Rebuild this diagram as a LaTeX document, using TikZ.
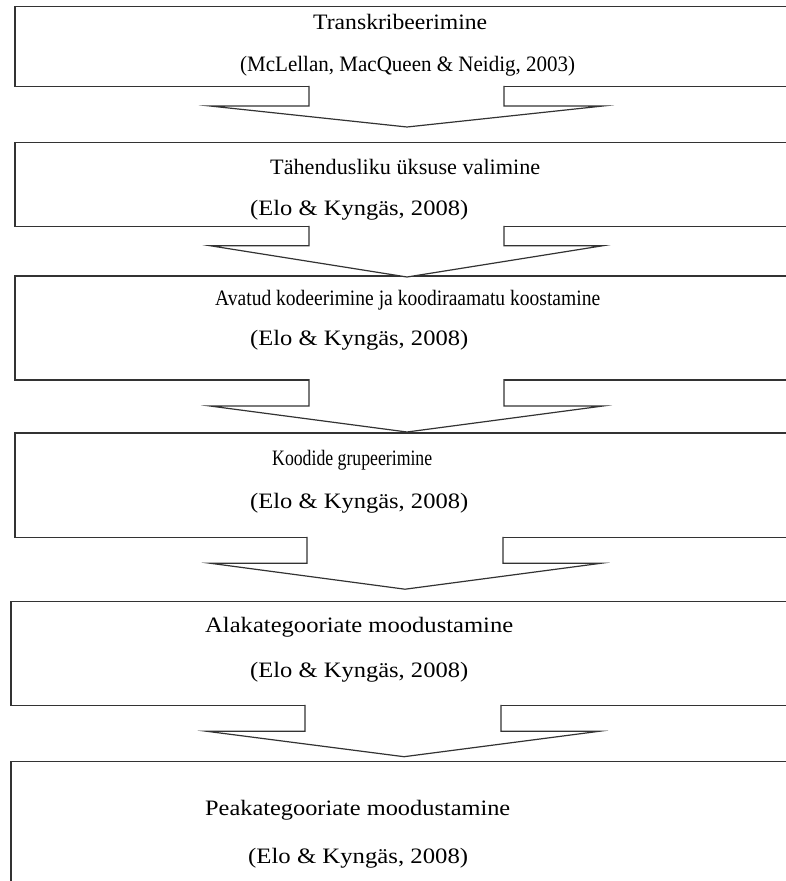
\documentclass[tikz,border=0pt]{standalone}
\usepackage{fontspec}
\usepackage{graphicx}
\setmainfont{Liberation Serif}
\usetikzlibrary{calc}
\newcommand\fitw[2]{\resizebox{#1pt}{\height}{#2}}
\begin{document}
\begin{tikzpicture}[x=1pt,y=-1pt,
  boxst/.style={draw=black!80, line width=1.2pt, anchor=north west, inner sep=0pt, outer sep=0pt, minimum width=800pt},
  arrst/.style={draw=black!80, line width=1.2pt, fill=white, line join=miter, miter limit=20},
  txt/.style={anchor=west, inner sep=0pt, font=\fontsize{22}{26}\selectfont, text=black}]
\useasboundingbox (0,0) rectangle (786,881);
\clip (0,0) rectangle (786,881);
\fill[white] (0,0) rectangle (786,881);
% boxes
\node[boxst, minimum height=80pt]  (b1) at (15,6.7) {};
\node[boxst, minimum height=84pt]  (b2) at (15,142.7) {};
\node[boxst, minimum height=104pt] (b3) at (15,276) {};
\node[boxst, minimum height=104.7pt] (b4) at (15,433) {};
\node[boxst, minimum height=104pt] (b5) at (11,601.7) {};
\node[boxst, minimum height=160pt] (b6) at (11,761.7) {};
% arrow tips
\coordinate (t1) at ($(407,0 |- b2.north)+(0,-15.7)$);
\coordinate (t2) at ($(407,0 |- b3.north)+(0,1)$);
\coordinate (t3) at ($(407,0 |- b4.north)+(0,-1)$);
\coordinate (t4) at ($(405,0 |- b5.north)+(0,-12.5)$);
\coordinate (t5) at ($(404,0 |- b6.north)+(0,-5)$);
% block arrows
\draw[arrst] ($(309,0 |- b1.south)+(0,-0.8)$) -- (309,106) -- (210,106) -- (t1) -- (603,106) -- (504,106) -- ($(504,0 |- b1.south)+(0,-0.8)$);
\draw[arrst] ($(309,0 |- b2.south)+(0,-0.8)$) -- (309,245.7) -- (210,245.7) -- (t2) -- (603,245.7) -- (504,245.7) -- ($(504,0 |- b2.south)+(0,-0.8)$);
\draw[arrst] ($(309,0 |- b3.south)+(0,-0.8)$) -- (309,406) -- (210,406) -- (t3) -- (603,406) -- (504,406) -- ($(504,0 |- b3.south)+(0,-0.8)$);
\draw[arrst] ($(307,0 |- b4.south)+(0,-0.8)$) -- (307,563.3) -- (210.7,563.3) -- (t4) -- (600.7,563.3) -- (503,563.3) -- ($(503,0 |- b4.south)+(0,-0.8)$);
\draw[arrst] ($(305,0 |- b5.south)+(0,-0.8)$) -- (305,731.3) -- (207,731.3) -- (t5) -- (599,731.3) -- (501,731.3) -- ($(501,0 |- b5.south)+(0,-0.8)$);
% texts
\node[txt] (l1a) at (313,22) {\fitw{174}{Transkribeerimine}};
\node[txt] (l1b) at (240,66) {\fitw{335}{(McLellan, MacQueen \& Neidig, 2003)}};
\node[txt] (l2a) at (270,167) {\fitw{270}{Tähendusliku üksuse valimine}};
\node[txt] (l2b) at (250,210) {\fitw{218}{(Elo \& Kyngäs, 2008)}};
\node[txt] (l3a) at (215,300) {\fitw{385}{Avatud kodeerimine ja koodiraamatu koostamine}};
\node[txt] (l3b) at (250,340) {\fitw{218}{(Elo \& Kyngäs, 2008)}};
\node[txt] (l4a) at (272,460) {\fitw{160}{Koodide grupeerimine}};
\node[txt] (l4b) at (250,503) {\fitw{218}{(Elo \& Kyngäs, 2008)}};
\node[txt] (l5a) at (205,627) {\fitw{308}{Alakategooriate moodustamine}};
\node[txt] (l5b) at (250,672) {\fitw{218}{(Elo \& Kyngäs, 2008)}};
\node[txt] (l6a) at (205,810) {\fitw{305}{Peakategooriate moodustamine}};
\node[txt] (l6b) at (248,858) {\fitw{220}{(Elo \& Kyngäs, 2008)}};
\end{tikzpicture}
\end{document}
